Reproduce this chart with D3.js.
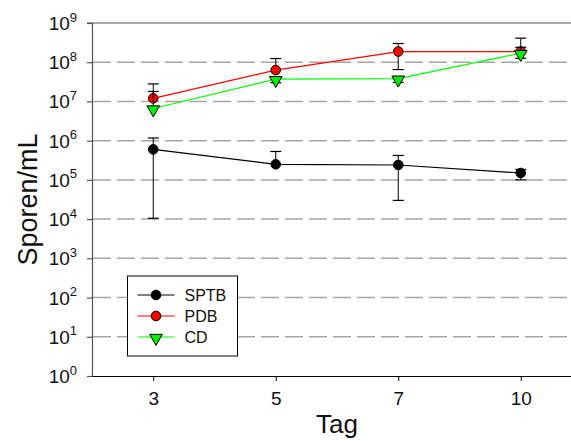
<!DOCTYPE html>
<html>
<head>
<meta charset="utf-8">
<script src="https://cdn.jsdelivr.net/npm/d3@7"></script>
<style>
	html, body { margin: 0; padding: 0; background: #fff; }
	svg { display: block; font-family: "Liberation Sans", Arial, sans-serif; }
</style>
</head>
<body>
<div id="chart"></div>
<script>
// days (categories on the x axis)
var days = ["3", "5", "7", "10"];

// mean values, spores per mL
var sptb = [6.0e5, 2.5e5, 2.4e5, 1.5e5];
var pdb = [1.2e7, 6.3e7, 1.87e8, 1.87e8];
var cd = [6.6e6, 3.7e7, 3.8e7, 1.7e8];

// error bar ends (null = not visible on the log axis)
var sptbUpper = [1.17e6, 5.3e5, 4.2e5, 1.85e5];
var sptbLower = [1.05e4, null, 3.0e4, 1.0e5];
var pdbUpper = [2.8e7, 1.24e8, 3.0e8, 4.1e8];
var pdbLower = [null, null, 6.5e7, null];
var cdUpper = [1.8e7, null, null, 2.4e8];
var cdLower = [null, 3.0e7, 3.05e7, 1.26e8];

// y ticks (powers of ten)
var yExponents = [0, 1, 2, 3, 4, 5, 6, 7, 8, 9];

var seriesList = [
	{ name: "SPTB", values: sptb, upper: sptbUpper, lower: sptbLower, color: "#000000", fill: "#000000", symbol: "circle" },
	{ name: "PDB", values: pdb, upper: pdbUpper, lower: pdbLower, color: "#ff0000", fill: "#ff0000", symbol: "circle" },
	{ name: "CD", values: cd, upper: cdUpper, lower: cdLower, color: "#00ff00", fill: "#00ee00", symbol: "triangle" }
];

var width = 571, height = 441;
var margin = { top: 23, left: 92 };
var plotRight = 582, plotBottom = 376;

var svg = d3.select("#chart")
	.append("svg")
	.attr("width", width)
	.attr("height", height);

svg.append("rect").attr("width", width).attr("height", height).attr("fill", "#fff");

var xScale = d3.scalePoint()
	.domain(days)
	.range([margin.left, plotRight])
	.padding(0.5);

var yScale = d3.scaleLog()
	.domain([1, 1e9])
	.range([plotBottom, margin.top]);

// dashed grid lines at each decade
svg.append("g")
	.selectAll("line")
	.data(yExponents.filter(function (e) { return e > 0 && e < 9; }))
	.join("line")
	.attr("x1", margin.left + 1)
	.attr("x2", plotRight)
	.attr("y1", function (e) { return yScale(Math.pow(10, e)); })
	.attr("y2", function (e) { return yScale(Math.pow(10, e)); })
	.attr("stroke", "#a6a6a6")
	.attr("stroke-width", 1.5)
	.attr("stroke-dasharray", "18,6");

// top frame line
svg.append("line")
	.attr("x1", margin.left - 5).attr("x2", plotRight)
	.attr("y1", margin.top).attr("y2", margin.top)
	.attr("stroke", "#555").attr("stroke-width", 1.2);

// y axis
var yAxis = svg.append("g")
	.attr("transform", "translate(" + margin.left + ",0)")
	.call(d3.axisLeft(yScale)
		.tickValues(yExponents.map(function (e) { return Math.pow(10, e); }))
		.tickSize(5)
		.tickFormat(""));
yAxis.select(".domain").attr("stroke", "#555").attr("stroke-width", 1.2);
yAxis.selectAll(".tick line").attr("stroke", "#555").attr("stroke-width", 1.2);

// y tick labels as 10 with superscript
var yLabels = svg.append("g")
	.selectAll("text")
	.data(yExponents)
	.join("text")
	.attr("x", 77)
	.attr("y", function (e) { return yScale(Math.pow(10, e)) + 7; })
	.attr("text-anchor", "end")
	.attr("font-size", "19px")
	.attr("fill", "#111");
yLabels.append("tspan").text("10");
yLabels.append("tspan")
	.attr("dy", -8.5)
	.attr("font-size", "13px")
	.text(function (e) { return e; });

// x axis
var xAxis = svg.append("g")
	.attr("transform", "translate(0," + plotBottom + ")")
	.call(d3.axisBottom(xScale).tickSize(5).tickSizeOuter(0).tickPadding(11));
xAxis.select(".domain").attr("stroke", "#000").attr("stroke-width", 1.2);
xAxis.selectAll(".tick line").attr("stroke", "#000");
xAxis.selectAll(".tick text")
	.attr("font-size", "19px")
	.attr("font-family", "Liberation Sans, Arial, sans-serif")
	.attr("fill", "#111");

// axis titles
svg.append("text")
	.attr("x", (margin.left + plotRight) / 2)
	.attr("y", 433)
	.attr("text-anchor", "middle")
	.attr("font-size", "26px")
	.attr("fill", "#111")
	.text("Tag");

svg.append("text")
	.attr("transform", "translate(37," + ((margin.top + plotBottom) / 2) + ") rotate(-90)")
	.attr("text-anchor", "middle")
	.attr("font-size", "27px")
	.attr("fill", "#111")
	.text("Sporen/mL");

var line = d3.line()
	.x(function (d, i) { return xScale(days[i]); })
	.y(function (d) { return yScale(d); });

var triangle = d3.symbol().type(d3.symbolTriangle).size(70);

function drawSymbol(g, s, x, y) {
	if (s.symbol === "circle") {
		g.append("circle")
			.attr("cx", x).attr("cy", y).attr("r", 4.8)
			.attr("fill", s.fill).attr("stroke", "#000").attr("stroke-width", 1);
	} else {
		g.append("path")
			.attr("d", triangle())
			.attr("transform", "translate(" + x + "," + (y + 1) + ") rotate(180)")
			.attr("fill", s.fill).attr("stroke", "#000").attr("stroke-width", 1);
	}
}

// series: error bars, line, symbols
seriesList.forEach(function (s) {
	var g = svg.append("g");
	s.values.forEach(function (v, i) {
		var x = xScale(days[i]);
		[s.upper[i], s.lower[i]].forEach(function (e) {
			if (e == null) return;
			g.append("line")
				.attr("x1", x).attr("x2", x)
				.attr("y1", yScale(v)).attr("y2", yScale(e))
				.attr("stroke", "#000").attr("stroke-width", 1);
			g.append("line")
				.attr("x1", x - 5.5).attr("x2", x + 5.5)
				.attr("y1", yScale(e)).attr("y2", yScale(e))
				.attr("stroke", "#000").attr("stroke-width", 1.2);
		});
	});
	g.append("path")
		.datum(s.values)
		.attr("d", line)
		.attr("fill", "none")
		.attr("stroke", s.color)
		.attr("stroke-width", 1.2);
	s.values.forEach(function (v, i) {
		drawSymbol(g, s, xScale(days[i]), yScale(v));
	});
});

// legend
var legend = svg.append("g").attr("transform", "translate(127.5,276)");
legend.append("rect")
	.attr("width", 110).attr("height", 80)
	.attr("fill", "#fff").attr("stroke", "#000").attr("stroke-width", 1);
seriesList.forEach(function (s, i) {
	var y = 19 + i * 21;
	legend.append("line")
		.attr("x1", 10).attr("x2", 47)
		.attr("y1", y).attr("y2", y)
		.attr("stroke", s.color).attr("stroke-width", 1.2);
	drawSymbol(legend, s, 28.5, y);
	legend.append("text")
		.attr("x", 57).attr("y", y + 6)
		.attr("font-size", "16px")
		.attr("fill", "#111")
		.text(s.name);
});
</script>
</body>
</html>
